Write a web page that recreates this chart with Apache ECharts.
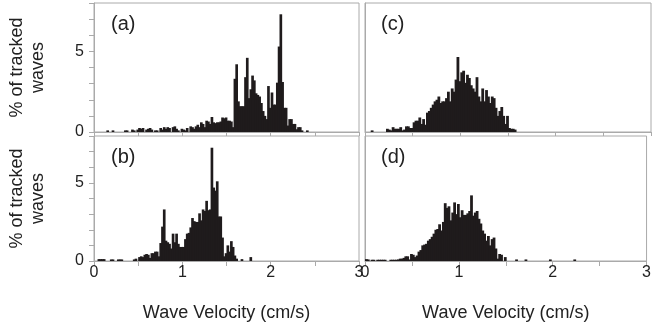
<!DOCTYPE html>
<html>
<head>
<meta charset="utf-8">
<script src="https://cdn.jsdelivr.net/npm/echarts@6/dist/echarts.min.js"></script>
<style>
html,body{margin:0;padding:0;background:#fff;}
#chart{width:654px;height:325px;}
</style>
</head>
<body>
<div id="chart"></div>
<script>
// Histogram bins: velocity (cm/s), first bin starts at 0
const binStart = 0;
const binWidth = 0.02;
const xTickLabels = ['0', '1', '2', '3'];
const yTickLabels = ['0', '5'];
const panelLabels = ['(a)', '(b)', '(c)', '(d)'];
const xTitle = 'Wave Velocity (cm/s)';
const yTitle = '% of tracked\nwaves';

// % of tracked waves per bin
const pctA = [
0,0,0,0,0,0,0,0.1,0,0,0.1,0,0,0,0,
0,0,0.1,0.1,0,0,0.15,0.1,0,0.15,0.25,0.2,0.25,0,0.15,
0.2,0.25,0.15,0,0.1,0.1,0,0.25,0.15,0.3,0.2,0.3,0.25,0,0.3,
0.35,0.2,0.1,0,0.2,0.15,0.1,0.25,0,0.35,0.3,0.2,0.35,0.45,0.3,
0.6,0.5,0.3,0.7,0.65,0.5,0.93,0.6,0.55,0.6,0.6,0.65,0.9,0.85,0.9,
0.7,0.7,0.65,0.3,3.3,4.2,1.9,1.6,1.6,1.6,3.4,4.6,2.1,2.65,3.5,
3.2,2.4,2.3,2.2,1.8,1.3,1.0,0.8,2.85,1.5,2.45,1.7,1.7,3.06,5.3,
7.3,3.1,1.5,1.5,0.4,0.8,0.8,0.5,0.5,0.17,0.3,0.3,0.1,0,0,
0.1
];
const pctB = [
0,0,0.12,0.12,0.12,0.12,0,0,0,0.1,0.1,0,0,0.1,0.1,
0.1,0,0,0,0,0,0,0.1,0.15,0,0.25,0.3,0.25,0.4,0.45,
0.4,0.2,0.5,0.5,0.6,0.6,0.3,1.15,2.2,3.3,1.3,1.2,1.1,0.8,1.75,
1.2,1.75,1.1,0.9,0.9,0.9,1.4,1.75,1.8,2.15,2.75,2.55,2.5,2.5,3.05,
2.6,3.3,3.2,3.85,3.25,3.3,7.25,4.7,4.5,5.1,2.85,2.85,1.5,0.3,0.5,
1.0,0.6,1.27,0.9,0.35,0.15,0,0,0.12,0,0,0,0,0.25
];
const pctC = [
0,0,0,0.1,0,0,0,0,0,0,0,0.2,0.15,0.1,0.3,
0.2,0.2,0.2,0.3,0.1,0.15,0.35,0.35,0.25,0.25,0.6,0.7,0.7,0.9,0.5,
0.8,0.45,1.2,1.3,1.5,1.7,1.9,2.0,2.2,1.8,1.9,1.9,2.1,2.5,1.9,
2.7,2.5,3.25,4.65,3.15,3.7,3.8,3.05,3.55,3.35,2.9,2.7,2.5,3.4,2.2,
1.9,2.7,1.9,2.6,2.2,1.8,2.2,2.1,1.5,1.0,1.3,1.55,1.0,0.5,1.0,
0.25,0.2,0.2,0.15
];
const pctD = [
0.12,0.1,0,0.08,0.08,0,0.08,0.08,0.08,0.08,0.08,0,0,0.08,0.08,
0.08,0.08,0.1,0.15,0.15,0.2,0.3,0.3,0.1,0.45,0.4,0.25,0.35,0.6,0.7,
1.0,1.05,1.1,1.3,1.4,1.55,1.75,2.0,2.05,2.35,1.95,2.5,3.7,3.4,3.5,
2.6,3.1,3.75,3.0,3.65,2.8,3.25,2.95,2.95,3.05,3.2,4.2,2.9,3.1,3.2,
2.7,2.4,1.95,1.75,1.3,1.6,1.0,1.4,1.5,0.8,0.15,0.45,0.4,0,0.25,
0,0,0,0,0,0.1,0,0,0,0,0.1,0,0,0,0,
0,0,0,0,0,0,0,0,0.1,0,0,0,0,0,0,
0,0,0,0,0,0,0.1
];

const barColor = '#1f1b1c';
const textColor = '#222';
const lineColor = '#aaaaaa';
const fontFamily = '"Liberation Sans", Arial, Helvetica, sans-serif';

function toBins(arr) {
  return arr.map((v, i) => [binStart + i * binWidth, v]).filter(d => d[1] > 0);
}

function renderBar(params, api) {
  const x0 = api.value(0);
  const y = api.value(1);
  const tl = api.coord([x0, y]);
  const br = api.coord([x0 + binWidth, 0]);
  return {
    type: 'rect',
    shape: { x: tl[0], y: tl[1], width: br[0] - tl[0] + 0.9, height: br[1] - tl[1] },
    style: { fill: barColor }
  };
}

const grids = [
  { left: 94, top: 3, width: 265, height: 129 },   // a
  { left: 94, top: 136, width: 265, height: 125 }, // b
  { left: 365, top: 3, width: 286, height: 129 },  // c
  { left: 365, top: 136, width: 286, height: 125 } // d
];
const isBottom = [false, true, false, true];
const isLeft = [true, true, false, false];
const seriesData = [pctA, pctB, pctC, pctD];
const labelTops = [14, 147, 14, 147];
const labelLefts = [111, 111, 381, 381];

const option = {
  animation: false,
  backgroundColor: '#fff',
  textStyle: { fontFamily: fontFamily },
  title: panelLabels.map((t, i) => ({
    text: t, left: labelLefts[i], top: labelTops[i], padding: 0,
    textStyle: { fontSize: 20, fontWeight: 'normal', color: textColor, fontFamily: fontFamily }
  })),
  grid: grids.map(g => Object.assign({ show: true, borderColor: lineColor, borderWidth: 1, backgroundColor: 'transparent' }, g)),
  xAxis: grids.map((g, i) => ({
    type: 'value', gridIndex: i, min: 0, max: 3, interval: 0.5,
    name: isBottom[i] ? xTitle : '',
    nameLocation: 'middle', nameGap: 43,
    nameTextStyle: { fontSize: 18, color: textColor, fontFamily: fontFamily },
    axisLine: { show: true, lineStyle: { color: lineColor, width: 1 } },
    axisTick: { show: true, inside: false, length: isBottom[i] ? 5 : 4, lineStyle: { color: lineColor, width: 1 } },
    splitLine: { show: false },
    axisLabel: {
      show: isBottom[i], margin: 4, fontSize: 16, color: textColor, fontFamily: fontFamily,
      formatter: v => (xTickLabels.indexOf(String(v)) >= 0 ? String(v) : '')
    }
  })),
  yAxis: grids.map((g, i) => ({
    type: 'value', gridIndex: i, min: 0, max: 8, interval: 1,
    name: isLeft[i] ? yTitle : '',
    nameLocation: 'middle', nameGap: 45,
    nameTextStyle: { fontSize: 18, lineHeight: 21.5, color: textColor, fontFamily: fontFamily, align: 'center' },
    axisLine: { show: true, lineStyle: { color: lineColor, width: 1 } },
    axisTick: { show: isLeft[i], inside: false, length: 5, lineStyle: { color: lineColor, width: 1 } },
    splitLine: { show: false },
    axisLabel: {
      show: isLeft[i], margin: 10, fontSize: 16, color: textColor, fontFamily: fontFamily,
      formatter: v => (yTickLabels.indexOf(String(v)) >= 0 ? String(v) : '')
    }
  })),
  series: seriesData.map((arr, i) => ({
    type: 'custom', xAxisIndex: i, yAxisIndex: i,
    renderItem: renderBar,
    encode: { x: 0, y: 1 },
    data: toBins(arr),
    clip: true
  }))
};

const chart = echarts.init(document.getElementById('chart'), null, { renderer: 'canvas' });
chart.setOption(option);
</script>
</body>
</html>
